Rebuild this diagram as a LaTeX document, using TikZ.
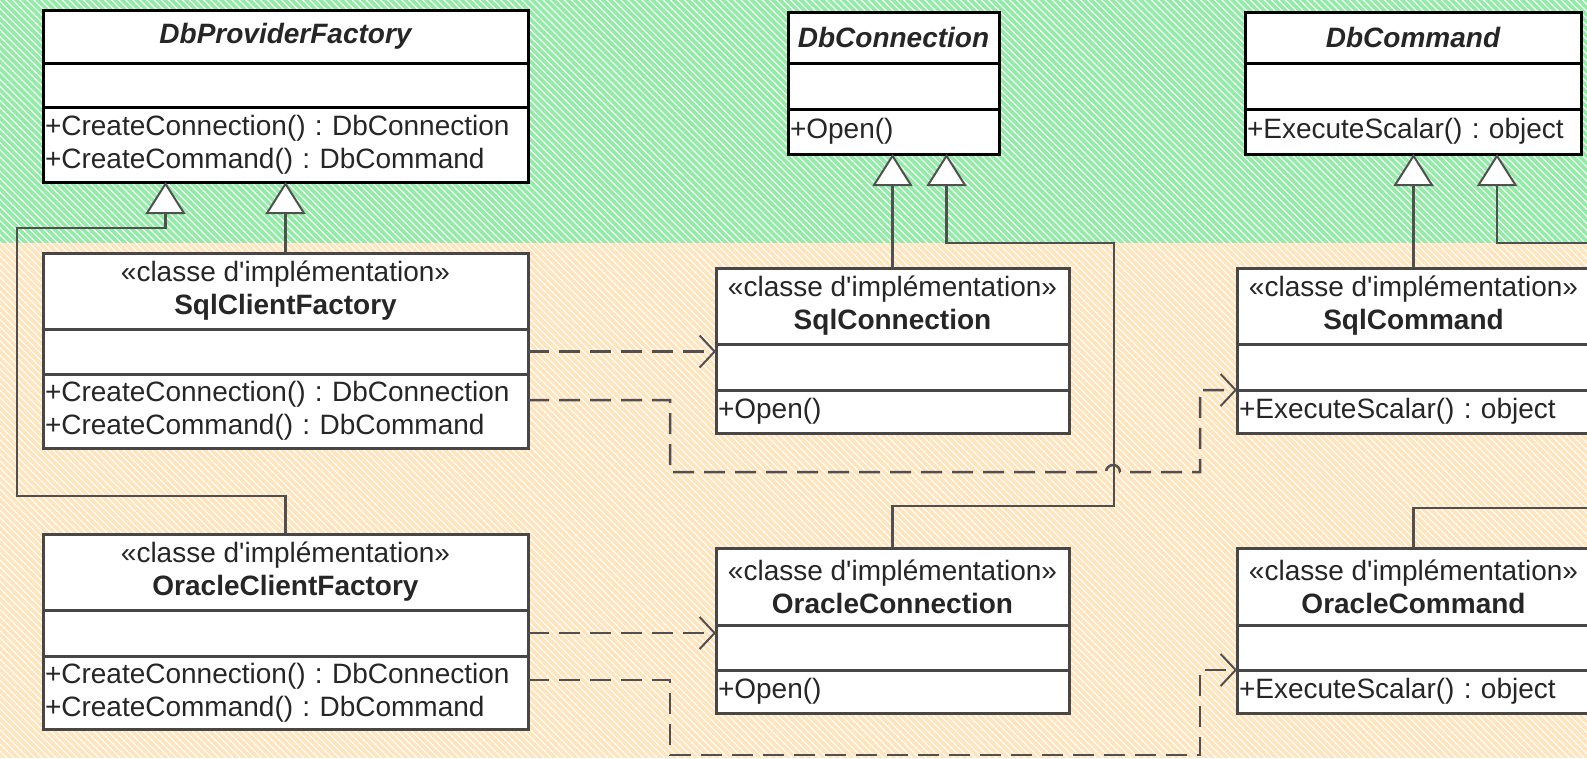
\documentclass[tikz,border=0pt]{standalone}
\usepackage{fontspec}
\setmainfont{Liberation Sans}
\usetikzlibrary{positioning,arrows.meta,patterns.meta}
\definecolor{zonegreen}{RGB}{145,236,165}
\definecolor{zoneorange}{RGB}{255,228,188}
\definecolor{linegray}{RGB}{80,80,80}
\newcommand\umlsize{\fontsize{28}{33}\selectfont\frenchspacing}

\begin{document}
\begin{tikzpicture}[x=1pt,y=-1pt,
  part/.style={draw=black, line width=3pt, fill=white, inner sep=0pt,
    outer sep=0pt, text=black!85, anchor=north west, font=\umlsize},
  impl/.style={part, draw=black!72, align=center},
  abs/.style={part, font=\umlsize\bfseries\itshape},
  meth/.style={inner xsep=2pt, align=left},
  wide/.style={minimum width=485pt},
  mid/.style={minimum width=353pt},
  gen/.style={draw=linegray, line width=2.5pt,
    -{Triangle[length=32pt,width=40pt,fill=white,line width=2pt]}},
  dep/.style={draw=linegray, line width=2.5pt, dash pattern=on 21pt off 10pt,
    -{Straight Barb[length=15pt,width=32pt,line width=2pt]}},
  hatch/.style={pattern={Lines[angle=-45,distance=5pt,line width=1.2pt]},
    pattern color=white}]
  \useasboundingbox (0,0) rectangle (1587,758);
  \clip (0,0) rectangle (1587,758);

  % zones
  \fill[zonegreen] (0,0) rectangle (1587,243);
  \fill[zoneorange] (0,243) rectangle (1587,758);
  \fill[hatch] (0,0) rectangle (1587,758);

  % abstract classes
  \node[abs, wide, minimum height=53pt] (dpf) at (43,10) {DbProviderFactory};
  \node[part, wide, minimum height=44pt, below=0pt of dpf] (dpf-a) {};
  \node[part, meth, text width=481pt, minimum height=75pt, below=0pt of dpf-a] (dpf-m)
    {+CreateConnection() : DbConnection\\+CreateCommand() : DbCommand};

  \node[abs, minimum width=211pt, minimum height=51pt] (dbconn) at (788,12) {DbConnection};
  \node[part, minimum width=211pt, minimum height=46pt, below=0pt of dbconn] (dbconn-a) {};
  \node[part, meth, text width=207pt, minimum height=45pt, below=0pt of dbconn-a] (dbconn-m)
    {+Open()};

  \node[abs, minimum width=336pt, minimum height=51pt] (dbcmd) at (1245,12) {DbCommand};
  \node[part, minimum width=336pt, minimum height=46pt, below=0pt of dbcmd] (dbcmd-a) {};
  \node[part, meth, text width=332pt, minimum height=45pt, below=0pt of dbcmd-a] (dbcmd-m)
    {+ExecuteScalar() : object};

  % implementation classes
  \node[impl, wide, minimum height=76pt] (sqlfac) at (43,253)
    {«classe d\textquotesingle implémentation»\\\textbf{SqlClientFactory}};
  \node[impl, wide, minimum height=45pt, below=0pt of sqlfac] (sqlfac-a) {};
  \node[impl, meth, text width=481pt, minimum height=74pt, below=0pt of sqlfac-a] (sqlfac-m)
    {+CreateConnection() : DbConnection\\+CreateCommand() : DbCommand};

  \node[impl, mid, minimum height=76pt] (sqlconn) at (716,268)
    {«classe d\textquotesingle implémentation»\\\textbf{SqlConnection}};
  \node[impl, mid, minimum height=46pt, below=0pt of sqlconn] (sqlconn-a) {};
  \node[impl, meth, text width=349pt, minimum height=43pt, below=0pt of sqlconn-a] (sqlconn-m)
    {+Open()};

  \node[impl, mid, minimum height=76pt] (sqlcmd) at (1237,268)
    {«classe d\textquotesingle implémentation»\\\textbf{SqlCommand}};
  \node[impl, mid, minimum height=46pt, below=0pt of sqlcmd] (sqlcmd-a) {};
  \node[impl, meth, text width=349pt, minimum height=43pt, below=0pt of sqlcmd-a] (sqlcmd-m)
    {+ExecuteScalar() : object};

  \node[impl, wide, minimum height=76pt] (orafac) at (43,534)
    {«classe d\textquotesingle implémentation»\\\textbf{OracleClientFactory}};
  \node[impl, wide, minimum height=46pt, below=0pt of orafac] (orafac-a) {};
  \node[impl, meth, text width=481pt, minimum height=73pt, below=0pt of orafac-a] (orafac-m)
    {+CreateConnection() : DbConnection\\+CreateCommand() : DbCommand};

  \node[impl, mid, minimum height=77pt] (oraconn) at (716,548)
    {«classe d\textquotesingle implémentation»\\\textbf{OracleConnection}};
  \node[impl, mid, minimum height=45pt, below=0pt of oraconn] (oraconn-a) {};
  \node[impl, meth, text width=349pt, minimum height=43pt, below=0pt of oraconn-a] (oraconn-m)
    {+Open()};

  \node[impl, mid, minimum height=77pt] (oracmd) at (1237,548)
    {«classe d\textquotesingle implémentation»\\\textbf{OracleCommand}};
  \node[impl, mid, minimum height=45pt, below=0pt of oracmd] (oracmd-a) {};
  \node[impl, meth, text width=349pt, minimum height=43pt, below=0pt of oracmd-a] (oracmd-m)
    {+ExecuteScalar() : object};

  % ends that leave the picture on the right
  \coordinate (offcmd) at (1600,243);
  \coordinate (offora) at (1600,508);

  % generalisations
  \draw[gen] (sqlfac.north) -- (dpf-m.south);
  \draw[gen] (orafac.north) |- (17,496) -- (17,228) -| ([xshift=-120pt]dpf-m.south);
  \draw[gen] (sqlconn.north) -- (sqlconn.north |- dbconn-m.south);
  \draw[gen] (oraconn.north) |- (1114,506) -- (1114,243) -| ([xshift=53pt]dbconn-m.south);
  \draw[gen] (sqlcmd.north) -- (sqlcmd.north |- dbcmd-m.south);
  \draw[gen] (offcmd) -| ([xshift=84pt]dbcmd-m.south);
  \draw[draw=linegray, line width=2.5pt] (oracmd.north) |- (offora);

  % dependencies
  \draw[dep] (sqlfac-a.east) -- (sqlfac-a.east -| sqlconn-a.west);
  \draw[dep] ([yshift=-26pt]sqlfac-m.north east) -| (670,472) -- (1106,472)
    arc[start angle=180,end angle=360,radius=7]
    -| ([xshift=-37pt]sqlcmd-m.north west) -- (sqlcmd-m.north west);
  \draw[dep] (orafac-a.east) -- (orafac-a.east -| oraconn-a.west);
  \draw[dep] ([yshift=-24pt]orafac-m.north east) -| (670,755)
    -| ([xshift=-37pt]oracmd-m.north west) -- (oracmd-m.north west);
\end{tikzpicture}
\end{document}
